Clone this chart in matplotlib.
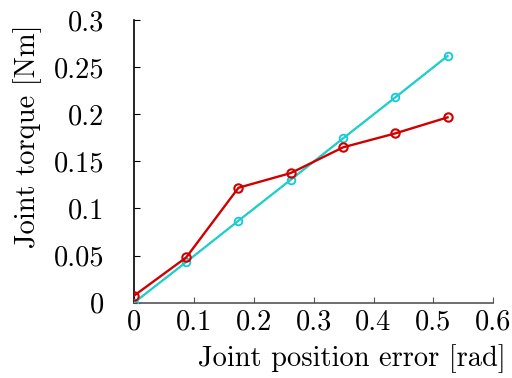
import numpy as np
import matplotlib
matplotlib.use("Agg")
import matplotlib.pyplot as plt

# Joint position error [rad] at 5-degree steps
position_error = [0.0, 0.0873, 0.1745, 0.2618, 0.3491, 0.4363, 0.5236]
# Measured joint torque [Nm]
measured_torque = [0.0074, 0.0481, 0.1220, 0.1376, 0.1649, 0.1797, 0.1967]
# Model (linear stiffness) joint torque [Nm]
model_torque = [0.0, 0.0432, 0.0870, 0.1305, 0.1744, 0.2179, 0.2618]

x_ticks = [0, 0.1, 0.2, 0.3, 0.4, 0.5, 0.6]
x_tick_labels = ["0", "0.1", "0.2", "0.3", "0.4", "0.5", "0.6"]
y_ticks = [0, 0.05, 0.1, 0.15, 0.2, 0.25, 0.3]
y_tick_labels = ["0", "0.05", "0.1", "0.15", "0.2", "0.25", "0.3"]

plt.rcParams["font.family"] = ["cmr10", "DejaVu Serif"]
plt.rcParams["axes.formatter.use_mathtext"] = True

FS = 20.5

fig = plt.figure(figsize=(5.12, 3.78), dpi=100)
ax = fig.add_axes([0.2617, 0.1992, 0.7018, 0.7478])

ax.plot(position_error, model_torque, color="#10c8e0", lw=1.6,
        marker="o", ms=5.5, mfc="none", mec="#10c8e0", mew=1.3, zorder=3)
ax.plot(position_error, model_torque, color="#40e870", lw=0.8,
        ls=(0, (1.0, 1.5)), zorder=4)
ax.plot(position_error, measured_torque, color="#d00000", lw=1.7,
        marker="o", ms=6, mfc="none", mec="#d00000", mew=1.5, zorder=5)

ax.set_xlim(0, 0.6)
ax.set_ylim(0, 0.3)
ax.set_xticks(x_ticks)
ax.set_xticklabels(x_tick_labels)
ax.set_yticks(y_ticks)
ax.set_yticklabels(y_tick_labels)

for side in ("top", "right"):
    ax.spines[side].set_visible(False)
ax.spines["left"].set_color("black")
ax.spines["left"].set_linewidth(1.2)
ax.spines["bottom"].set_color("#555555")
ax.spines["bottom"].set_linewidth(1.2)
ax.tick_params(direction="in", length=4, width=0.8, labelsize=FS)
ax.tick_params(axis="y", pad=21.5)
ax.tick_params(axis="x", pad=5, colors="#555555", labelcolor="black")

ax.set_xlabel("Joint position error [rad]", fontsize=FS, ha="right", va="center")
ax.xaxis.set_label_coords(1.035, -0.196)
ax.set_ylabel("Joint torque [Nm]", fontsize=FS, ha="center", va="center")
ax.yaxis.set_label_coords(-0.296, 0.59)

fig.savefig("out.png", dpi=100)
